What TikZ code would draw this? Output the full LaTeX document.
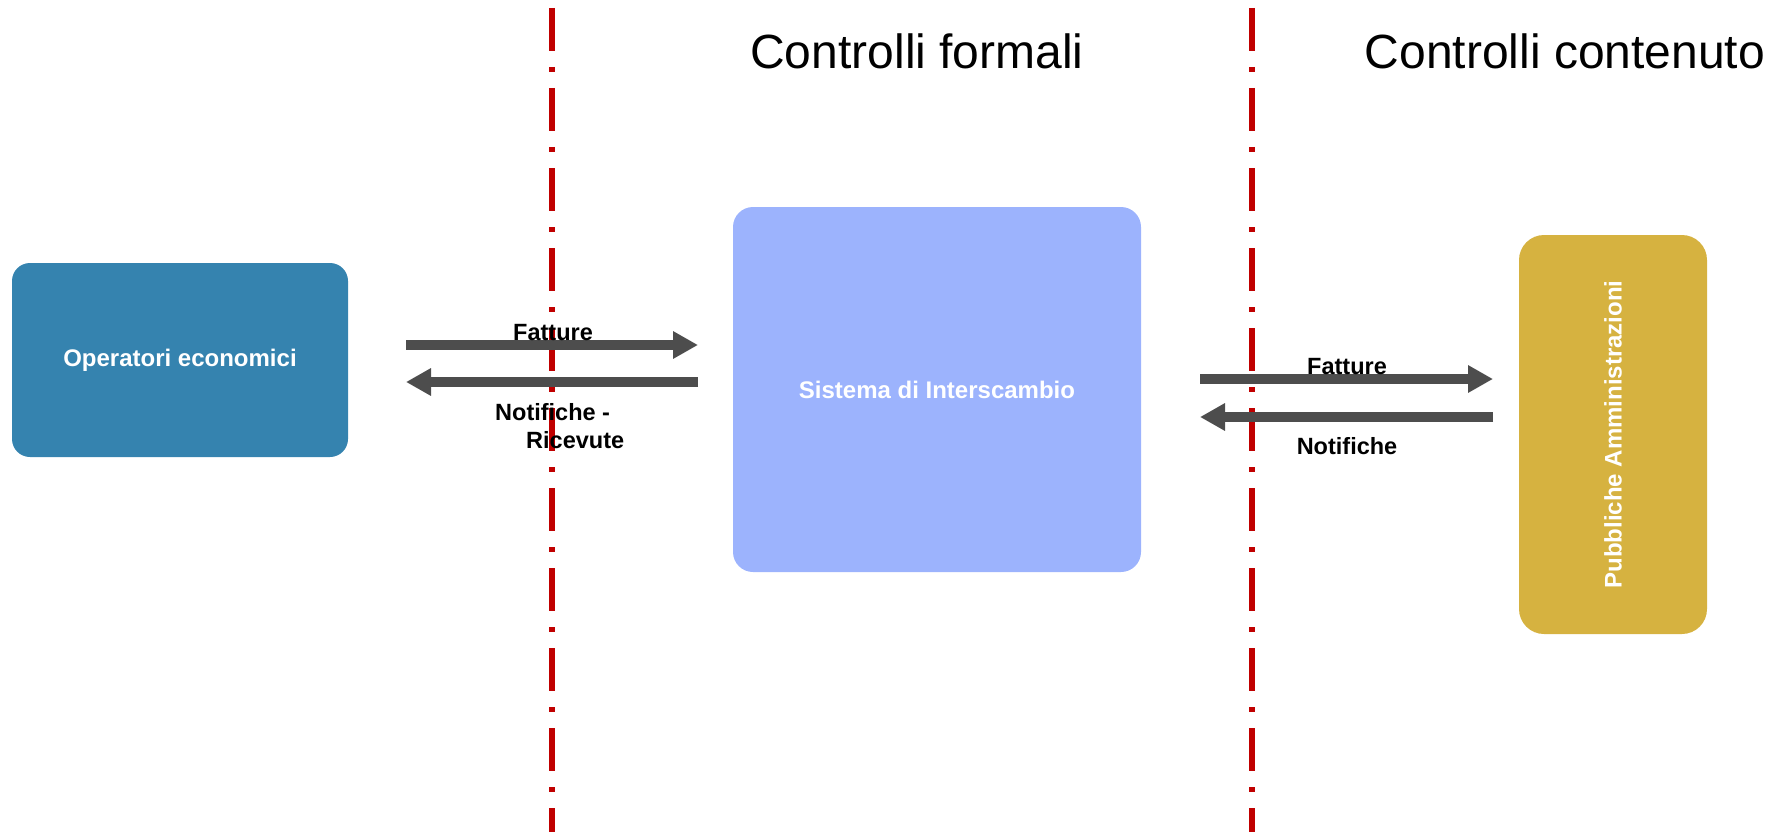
\documentclass[tikz,border=0pt]{standalone}
\usepackage{fontspec}
\setmainfont{Liberation Sans}
\usetikzlibrary{
  arrows.meta
}
\definecolor{oecol}{HTML}{3583AF}
\definecolor{sdicol}{HTML}{9CB3FD}
\definecolor{pacol}{HTML}{D6B240}
\definecolor{arrcol}{HTML}{4D4D4D}
\definecolor{sepcol}{HTML}{C00000}

\begin{document}
\begin{tikzpicture}[
  x=1pt, y=-1pt,
  box/.style={rounded corners=#1, inner sep=0pt, text=white,
    font=\fontsize{24}{28}\selectfont\bfseries},
  lbl/.style={inner sep=0pt, font=\fontsize{23.5}{28}\selectfont\bfseries},
  title/.style={inner sep=0pt, anchor=base, font=\fontsize{48}{56}\selectfont},
  flow/.style={line width=9.5pt, arrcol,
    -{Triangle[length=25pt,width=26pt]}},
  sep/.style={line width=5.5pt, sepcol,
    dash pattern=on 43pt off 16pt on 5pt off 16pt},
]
\useasboundingbox (0,0) rectangle (1785,832);
\draw[sep] (552,8) coordinate (s1a) -- (552,832) coordinate (s1b);
\draw[sep] (1252,8) coordinate (s2a) -- (1252,832) coordinate (s2b);
\node[title] (tf) at (917,69) {Controlli formali};
\node[title] (tc) at (1565,69) {Controlli contenuto};
\node[box=18pt, fill=oecol, minimum width=336pt, minimum height=194pt]
  (oe) at (180,360) {Operatori economici};
\node[box=20pt, fill=sdicol, minimum width=408pt, minimum height=365pt]
  (sdi) at (937,389.5) {Sistema di Interscambio};
\node[box=25pt, fill=pacol, rotate=90, minimum width=399pt, minimum height=188pt]
  (pa) at (1613,434.5) {Pubbliche Amministrazioni};
\coordinate (oeout) at (406,345);
\coordinate (sdiin) at (698,345);
\coordinate (sdiout) at (698,382);
\coordinate (oein) at (406,382);
\coordinate (sdiout2) at (1200,379);
\coordinate (pain) at (1493,379);
\coordinate (paout) at (1493,417);
\coordinate (sdiin2) at (1200,417);
\draw[flow] (oeout) -- (sdiin);
\draw[flow] (sdiout) -- (oein);
\draw[flow] (sdiout2) -- (pain);
\draw[flow] (paout) -- (sdiin2);
\node[lbl, anchor=base] (fat1) at (553,340) {Fatture};
\node[lbl, anchor=north west, align=left] (not1) at (495,403)
  {Notifiche -\\\hspace*{31pt}Ricevute};
\node[lbl, anchor=base] (fat2) at (1347,374) {Fatture};
\node[lbl, anchor=base] (not2) at (1347,454) {Notifiche};
\end{tikzpicture}
\end{document}
